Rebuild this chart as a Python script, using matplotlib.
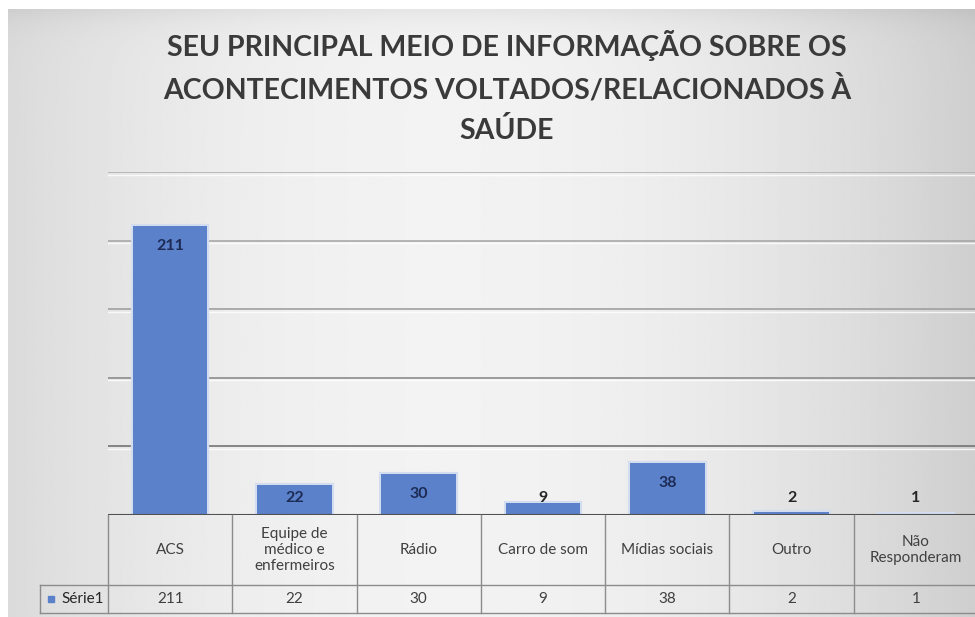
import numpy as np
import matplotlib
matplotlib.use("Agg")
import matplotlib.pyplot as plt
import matplotlib.transforms as mtrans

# data
categories = ["ACS", "Equipe de\nmédico e\nenfermeiros", "Rádio", "Carro de som",
              "Mídias sociais", "Outro", "Não\nResponderam"]
values = [211, 22, 30, 9, 38, 2, 1]
series_name = "Série1"
title = "SEU PRINCIPAL MEIO DE INFORMAÇÃO SOBRE OS\nACONTECIMENTOS VOLTADOS/RELACIONADOS À\nSAÚDE"

W, H = 975, 617
BAR = "#5a81ca"
TXT = "#404040"
FONT = ["Lato", "DejaVu Sans"]


def px(x0, y0, x1, y1):
    # pixel box (top-left origin) -> figure fraction rect
    return [x0 / W, 1 - y1 / H, (x1 - x0) / W, (y1 - y0) / H]


fig = plt.figure(figsize=(W / 100, H / 100), dpi=100)
fig.patch.set_facecolor("white")

# gradient background of the chart area
bg = fig.add_axes(px(8, 9, 975, 617))
gx = np.linspace(0, 1, 400)
gy = np.linspace(0, 1, 300)
GX, GY = np.meshgrid(gx, gy)
shade = 0.95 - 0.14 * ((GX - 0.45) / 0.55) ** 2 - 0.05 * np.exp(-GY * 40)
bg.imshow(shade, cmap="gray", vmin=0, vmax=1, aspect="auto", extent=(0, 1, 1, 0))
bg.axis("off")

# title
fig.text(507 / W, 1 - 87 / H, title, ha="center", va="center", fontsize=20.5,
         fontweight="bold", color="#3a3a3a", family=FONT, linespacing=1.6)

# bars
ax = fig.add_axes(px(108, 172, 978, 515))
ax.patch.set_alpha(0)
x = np.arange(len(values))
ax.bar(x, values, width=0.6, color="#d3ddef", edgecolor="#d3ddef", linewidth=3, zorder=2)
ax.bar(x, values, width=0.6, color=BAR, zorder=3)
ax.set_xlim(-0.5, len(values) - 0.5)
ax.set_ylim(0, 250)

shift = mtrans.offset_copy(ax.transData, fig=fig, y=-2.5, units="dots")
grid_cols = ["#b0b0b0", "#a8a8a8", "#a0a0a0", "#8c8c8c", "#747474"]
for yv, c in zip([250, 200, 150, 100, 50], grid_cols):
    ax.axhline(yv, color=c, lw=1.2, zorder=1)
    ax.plot([-0.5, len(values) - 0.5], [yv, yv], color="white", lw=1,
            alpha=0.8, transform=shift, zorder=1)
ax.axhline(0, color="#505050", lw=1.5, zorder=4)

for xi, v in zip(x, values):
    ly = max(v - 15, 12.5)
    col = "#1d2b55" if v > 15 else "#262626"
    ax.text(xi, ly, str(v), ha="center", va="center", fontsize=11.5,
            fontweight="bold", color=col, family=FONT, zorder=5)

for s in ax.spines.values():
    s.set_visible(False)
ax.set_xticks([])
ax.set_yticks([])

# data table under the axis
tb = fig.add_axes(px(108, 515, 978, 613))
tb.patch.set_alpha(0)
tb.set_xlim(-0.5, len(values) - 0.5)
tb.set_ylim(0, 98)
tb.axis("off")
lc = "#8c8c8c"
for k in range(len(values) + 1):
    tb.plot([k - 0.5, k - 0.5], [0, 98], color=lc, lw=1, clip_on=False)
left = -0.5 - 68 / 124.3
tb.plot([left, len(values) - 0.5], [28, 28], color=lc, lw=1, clip_on=False)
tb.plot([left, len(values) - 0.5], [0, 0], color=lc, lw=1, clip_on=False)
tb.plot([left, left], [0, 28], color=lc, lw=1, clip_on=False)

for xi, cat, v in zip(x, categories, values):
    tb.text(xi, 63, cat, ha="center", va="center", fontsize=11, color=TXT,
            family=FONT, linespacing=1.15)
    tb.text(xi, 14, str(v), ha="center", va="center", fontsize=11, color=TXT,
            family=FONT)

tb.plot([left + 0.09], [14], marker="s", ms=4, color=BAR, clip_on=False)
tb.text(left + 0.17, 14, series_name, ha="left", va="center", fontsize=11,
        color="#262626", family=FONT, clip_on=False)

fig.savefig("out.png", dpi=100)
